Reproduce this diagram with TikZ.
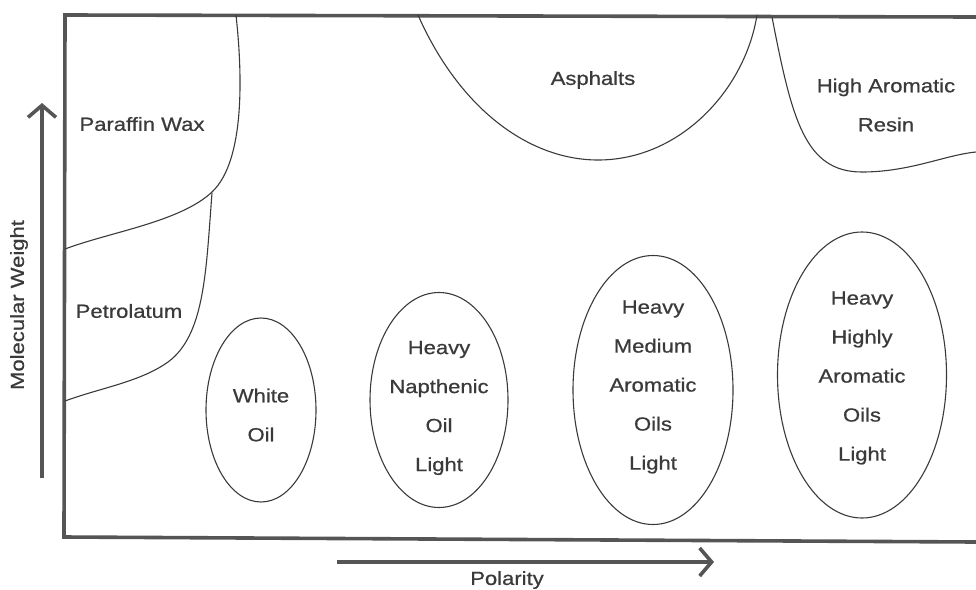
\documentclass[tikz,border=0pt]{standalone}
\usepackage{fontspec}
\setmainfont[FakeStretch=1.16, FakeBold=0.7]{Liberation Sans}
\usetikzlibrary{shapes.geometric,arrows.meta}
\definecolor{ink}{HTML}{3A3A3A}
\definecolor{framegray}{HTML}{555555}
\tikzset{
  frameline/.style={draw=framegray, line width=3.6pt, line join=miter},
  region/.style={draw=ink, line width=1.1pt},
  oval/.style={ellipse, draw=ink, line width=1.1pt, inner sep=0pt},
  lbl/.style={text=ink, font={\fontsize{19}{39}\selectfont}, align=center, inner sep=0pt},
  axisarrow/.style={draw=framegray, line width=3.6pt,
    -{Straight Barb[length=12pt, width=28pt, line width=3.6pt]}},
}
\begin{document}
\begin{tikzpicture}[x=1pt, y=-1pt]
\useasboundingbox (0,0) rectangle (976,589);

% outer frame (open on the right)
\draw[frameline] (976,17) -- (65,15) -- (64,537) -- (976,542);

% region boundaries
\draw[region] (236,15) .. controls (242,70) and (246,160) .. (212,192)
  .. controls (180,222) and (110,232) .. (65,249);
\draw[region] (212,193) .. controls (206,270) and (205,335) .. (168,362)
  .. controls (140,382) and (100,388) .. (65,401);
\draw[region] (418,15) .. controls (460,110) and (530,160) .. (598,160)
  .. controls (680,160) and (745,90) .. (757,15);
\draw[region] (772,17) .. controls (792,120) and (805,172) .. (862,172)
  .. controls (910,172) and (945,155) .. (976,152);

% region labels
\node[lbl] (wax) at (142,124) {Paraffin Wax};
\node[lbl] (petro) at (129,311) {Petrolatum};
\node[lbl] (asph) at (593,80) {Asphalts};
\node[lbl] (resin) at (886,105) {High Aromatic\\Resin};

% oil families
\node[oval, minimum width=110pt, minimum height=184pt] (white) at (261,410) {};
\node[oval, minimum width=138pt, minimum height=215pt] (naph) at (439,400) {};
\node[oval, minimum width=160pt, minimum height=269pt] (medarom) at (653,390) {};
\node[oval, minimum width=169pt, minimum height=286pt] (higharom) at (862,375) {};
\node[lbl] (whitetxt) at ([yshift=-5pt]white.center) {White\\Oil};
\node[lbl] (naphtxt) at ([yshift=-8pt]naph.center) {Heavy\\Napthenic\\Oil\\Light};
\node[lbl] (medaromtxt) at ([yshift=3pt]medarom.center) {Heavy\\Medium\\Aromatic\\Oils\\Light};
\node[lbl] (higharomtxt) at ([yshift=-3pt]higharom.center) {Heavy\\Highly\\Aromatic\\Oils\\Light};

% axes
\coordinate (mwlow) at (42,478);
\coordinate (mwhigh) at (42,103);
\coordinate (pollow) at (337,562);
\coordinate (polhigh) at (714,562);
\draw[axisarrow] (mwlow) -- (mwhigh);
\draw[axisarrow] (pollow) -- (polhigh);
\node[lbl, rotate=90] (mw) at (19,305) {Molecular Weight};
\node[lbl] (pol) at (507,580) {Polarity};
\end{tikzpicture}
\end{document}
